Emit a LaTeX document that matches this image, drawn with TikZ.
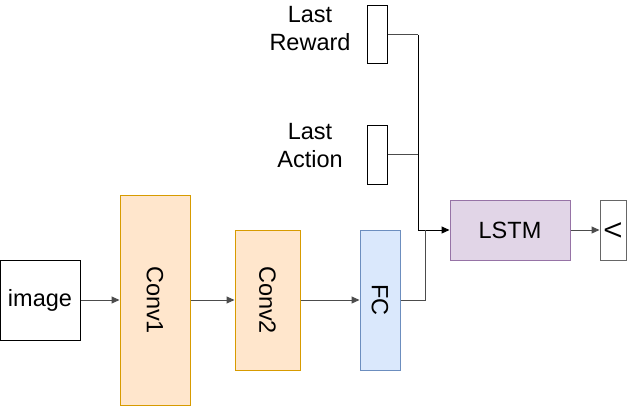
\documentclass[tikz,border=0pt]{standalone}
\usepackage{fontspec}
\setmainfont{Liberation Sans}
\usetikzlibrary{arrows.meta}
\definecolor{convfill}{HTML}{FFE6CC}
\definecolor{convline}{HTML}{D79B00}
\definecolor{fcfill}{HTML}{DAE8FC}
\definecolor{fcline}{HTML}{6C8EBF}
\definecolor{lstmfill}{HTML}{E1D5E7}
\definecolor{lstmline}{HTML}{9673A6}
\tikzset{
	box/.style={draw, line width=1pt, inner sep=0pt},
	convbox/.style={box, draw=convline, fill=convfill},
	fcbox/.style={box, draw=fcline, fill=fcfill},
	lstmbox/.style={box, draw=lstmline, fill=lstmfill},
	wire/.style={line width=1pt, draw=black!70},
	arrow/.style={wire, -{Triangle[length=8pt,width=7pt]}},
}

\begin{document}
\begin{tikzpicture}[x=1pt, y=-1pt, font=\fontsize{23.5}{28}\selectfont]
			%%%%% START %%%%%
			\useasboundingbox (0, 0) rectangle (628, 406);
			
			\node[box, minimum width=80pt, minimum height=80pt] (image) at (40, 300) {image};
			\node[convbox, minimum width=70pt, minimum height=210pt] (conv1) at (155, 300) {};
			\node[rotate=-90] at (conv1) {Conv1};
			\node[convbox, minimum width=65pt, minimum height=140pt] (conv2) at (267.5, 300) {};
			\node[rotate=-90] at (conv2) {Conv2};
			\node[fcbox, minimum width=40pt, minimum height=140pt] (fc) at (380, 300) {};
			\node[rotate=-90] at (fc) {FC};
			
			\node[lstmbox, minimum width=120pt, minimum height=60pt] (lstm) at (510, 230) {LSTM};
			\node[box, draw=black!60, minimum width=26pt, minimum height=60pt] (v) at (613, 230) {};
			\node[rotate=-90] at (v) {V};
			
			\node[box, minimum width=20pt, minimum height=58pt] (reward) at (377, 35) {};
			\node[box, minimum width=20pt, minimum height=58pt] (action) at (377, 155) {};
			\node[align=center] (rewardlabel) at (310, 29) {Last\\Reward};
			\node[align=center] (actionlabel) at (310, 146) {Last\\Action};
			
			\coordinate (merge) at (418, 230);
			\coordinate (fcknee) at (425, 230);
			
			\draw[arrow] (image) -- (conv1);
			\draw[arrow] (conv1) -- (conv2);
			\draw[arrow] (conv2) -- (fc);
			\draw[arrow] (lstm) -- (v);
			
			\draw[wire] (reward.east) -- (reward.east -| merge);
			\draw[wire] (action.east) -- (action.east -| merge);
			\draw[wire, draw=black] (reward.east -| merge) -- (merge);
			\draw[arrow, draw=black] (merge) -- (lstm.west);
			\draw[wire] (fc.east) -| (fcknee);
			
			%%%%% END %%%%%
\end{tikzpicture}
\end{document}
